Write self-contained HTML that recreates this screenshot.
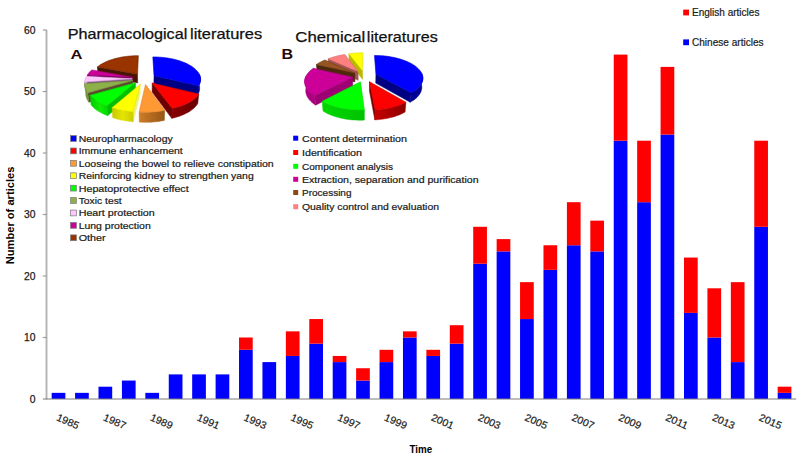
<!DOCTYPE html>
<html><head><meta charset="utf-8"><title>chart</title>
<style>html,body{margin:0;padding:0;background:#fff;}body{width:800px;height:456px;overflow:hidden;font-family:"Liberation Sans",sans-serif;}svg{display:block}text{font-family:"Liberation Sans",sans-serif;}</style>
</head><body>
<svg width="800" height="456" viewBox="0 0 800 456">
<rect width="800" height="456" fill="#ffffff"/>
<g>
<rect x="51.66" y="392.85" width="13.7" height="6.15" fill="#0000fe"/>
<rect x="75.08" y="392.85" width="13.7" height="6.15" fill="#0000fe"/>
<rect x="98.50" y="386.70" width="13.7" height="12.30" fill="#0000fe"/>
<rect x="121.92" y="380.55" width="13.7" height="18.45" fill="#0000fe"/>
<rect x="145.34" y="392.85" width="13.7" height="6.15" fill="#0000fe"/>
<rect x="168.76" y="374.40" width="13.7" height="24.60" fill="#0000fe"/>
<rect x="192.18" y="374.40" width="13.7" height="24.60" fill="#0000fe"/>
<rect x="215.60" y="374.40" width="13.7" height="24.60" fill="#0000fe"/>
<rect x="239.02" y="349.80" width="13.7" height="49.20" fill="#0000fe"/>
<rect x="239.02" y="337.50" width="13.7" height="12.30" fill="#fe0000"/>
<rect x="262.44" y="362.10" width="13.7" height="36.90" fill="#0000fe"/>
<rect x="285.86" y="355.95" width="13.7" height="43.05" fill="#0000fe"/>
<rect x="285.86" y="331.35" width="13.7" height="24.60" fill="#fe0000"/>
<rect x="309.28" y="343.65" width="13.7" height="55.35" fill="#0000fe"/>
<rect x="309.28" y="319.05" width="13.7" height="24.60" fill="#fe0000"/>
<rect x="332.70" y="362.10" width="13.7" height="36.90" fill="#0000fe"/>
<rect x="332.70" y="355.95" width="13.7" height="6.15" fill="#fe0000"/>
<rect x="356.12" y="380.55" width="13.7" height="18.45" fill="#0000fe"/>
<rect x="356.12" y="368.25" width="13.7" height="12.30" fill="#fe0000"/>
<rect x="379.54" y="362.10" width="13.7" height="36.90" fill="#0000fe"/>
<rect x="379.54" y="349.80" width="13.7" height="12.30" fill="#fe0000"/>
<rect x="402.96" y="337.50" width="13.7" height="61.50" fill="#0000fe"/>
<rect x="402.96" y="331.35" width="13.7" height="6.15" fill="#fe0000"/>
<rect x="426.38" y="355.95" width="13.7" height="43.05" fill="#0000fe"/>
<rect x="426.38" y="349.80" width="13.7" height="6.15" fill="#fe0000"/>
<rect x="449.80" y="343.65" width="13.7" height="55.35" fill="#0000fe"/>
<rect x="449.80" y="325.20" width="13.7" height="18.45" fill="#fe0000"/>
<rect x="473.22" y="263.70" width="13.7" height="135.30" fill="#0000fe"/>
<rect x="473.22" y="226.80" width="13.7" height="36.90" fill="#fe0000"/>
<rect x="496.64" y="251.40" width="13.7" height="147.60" fill="#0000fe"/>
<rect x="496.64" y="239.10" width="13.7" height="12.30" fill="#fe0000"/>
<rect x="520.06" y="319.05" width="13.7" height="79.95" fill="#0000fe"/>
<rect x="520.06" y="282.15" width="13.7" height="36.90" fill="#fe0000"/>
<rect x="543.48" y="269.85" width="13.7" height="129.15" fill="#0000fe"/>
<rect x="543.48" y="245.25" width="13.7" height="24.60" fill="#fe0000"/>
<rect x="566.90" y="245.25" width="13.7" height="153.75" fill="#0000fe"/>
<rect x="566.90" y="202.20" width="13.7" height="43.05" fill="#fe0000"/>
<rect x="590.32" y="251.40" width="13.7" height="147.60" fill="#0000fe"/>
<rect x="590.32" y="220.65" width="13.7" height="30.75" fill="#fe0000"/>
<rect x="613.74" y="140.70" width="13.7" height="258.30" fill="#0000fe"/>
<rect x="613.74" y="54.60" width="13.7" height="86.10" fill="#fe0000"/>
<rect x="637.16" y="202.20" width="13.7" height="196.80" fill="#0000fe"/>
<rect x="637.16" y="140.70" width="13.7" height="61.50" fill="#fe0000"/>
<rect x="660.58" y="134.55" width="13.7" height="264.45" fill="#0000fe"/>
<rect x="660.58" y="66.90" width="13.7" height="67.65" fill="#fe0000"/>
<rect x="684.00" y="312.90" width="13.7" height="86.10" fill="#0000fe"/>
<rect x="684.00" y="257.55" width="13.7" height="55.35" fill="#fe0000"/>
<rect x="707.42" y="337.50" width="13.7" height="61.50" fill="#0000fe"/>
<rect x="707.42" y="288.30" width="13.7" height="49.20" fill="#fe0000"/>
<rect x="730.84" y="362.10" width="13.7" height="36.90" fill="#0000fe"/>
<rect x="730.84" y="282.15" width="13.7" height="79.95" fill="#fe0000"/>
<rect x="754.26" y="226.80" width="13.7" height="172.20" fill="#0000fe"/>
<rect x="754.26" y="140.70" width="13.7" height="86.10" fill="#fe0000"/>
<rect x="777.68" y="392.85" width="13.7" height="6.15" fill="#0000fe"/>
<rect x="777.68" y="386.70" width="13.7" height="6.15" fill="#fe0000"/>
</g>
<line x1="46.5" y1="30.00" x2="46.5" y2="399.4" stroke="#b4b4b4" stroke-width="1.9"/>
<g stroke="#9a9a9a" stroke-width="1.1" fill="none">
<line x1="42.8" y1="399.0" x2="796.24" y2="399.0" stroke="#7c7c7c" stroke-width="1.2"/>
<line x1="42.8" y1="337.50" x2="46.8" y2="337.50"/>
<line x1="42.8" y1="276.00" x2="46.8" y2="276.00"/>
<line x1="42.8" y1="214.50" x2="46.8" y2="214.50"/>
<line x1="42.8" y1="153.00" x2="46.8" y2="153.00"/>
<line x1="42.8" y1="91.50" x2="46.8" y2="91.50"/>
<line x1="42.8" y1="30.00" x2="46.8" y2="30.00"/>
</g>
<g font-size="10.3" fill="#1a1a1a" stroke="#1a1a1a" stroke-width="0.25" text-anchor="end">
<text x="35.5" y="402.80">0</text>
<text x="35.5" y="341.30">10</text>
<text x="35.5" y="279.80">20</text>
<text x="35.5" y="218.30">30</text>
<text x="35.5" y="156.80">40</text>
<text x="35.5" y="95.30">50</text>
<text x="35.5" y="33.80">60</text>
</g>
<g font-size="10.3" fill="#1a1a1a" stroke="#1a1a1a" stroke-width="0.2">
<text transform="translate(55.71,419.90) rotate(24)" x="0" y="0" textLength="23.5" lengthAdjust="spacingAndGlyphs">1985</text>
<text transform="translate(102.55,419.90) rotate(24)" x="0" y="0" textLength="23.5" lengthAdjust="spacingAndGlyphs">1987</text>
<text transform="translate(149.39,419.90) rotate(24)" x="0" y="0" textLength="23.5" lengthAdjust="spacingAndGlyphs">1989</text>
<text transform="translate(196.23,419.90) rotate(24)" x="0" y="0" textLength="23.5" lengthAdjust="spacingAndGlyphs">1991</text>
<text transform="translate(243.07,419.90) rotate(24)" x="0" y="0" textLength="23.5" lengthAdjust="spacingAndGlyphs">1993</text>
<text transform="translate(289.91,419.90) rotate(24)" x="0" y="0" textLength="23.5" lengthAdjust="spacingAndGlyphs">1995</text>
<text transform="translate(336.75,419.90) rotate(24)" x="0" y="0" textLength="23.5" lengthAdjust="spacingAndGlyphs">1997</text>
<text transform="translate(383.59,419.90) rotate(24)" x="0" y="0" textLength="23.5" lengthAdjust="spacingAndGlyphs">1999</text>
<text transform="translate(430.43,419.90) rotate(24)" x="0" y="0" textLength="23.5" lengthAdjust="spacingAndGlyphs">2001</text>
<text transform="translate(477.27,419.90) rotate(24)" x="0" y="0" textLength="23.5" lengthAdjust="spacingAndGlyphs">2003</text>
<text transform="translate(524.11,419.90) rotate(24)" x="0" y="0" textLength="23.5" lengthAdjust="spacingAndGlyphs">2005</text>
<text transform="translate(570.95,419.90) rotate(24)" x="0" y="0" textLength="23.5" lengthAdjust="spacingAndGlyphs">2007</text>
<text transform="translate(617.79,419.90) rotate(24)" x="0" y="0" textLength="23.5" lengthAdjust="spacingAndGlyphs">2009</text>
<text transform="translate(664.63,419.90) rotate(24)" x="0" y="0" textLength="23.5" lengthAdjust="spacingAndGlyphs">2011</text>
<text transform="translate(711.47,419.90) rotate(24)" x="0" y="0" textLength="23.5" lengthAdjust="spacingAndGlyphs">2013</text>
<text transform="translate(758.31,419.90) rotate(24)" x="0" y="0" textLength="23.5" lengthAdjust="spacingAndGlyphs">2015</text>
</g>
<text x="409.5" y="452.6" font-size="10.6" font-weight="bold" fill="#000" textLength="22.7" lengthAdjust="spacingAndGlyphs">Time</text>
<text transform="translate(13.5,264.3) rotate(-90)" font-size="10.6" font-weight="bold" fill="#000" textLength="97.7" lengthAdjust="spacingAndGlyphs">Number of articles</text>
<rect x="683.2" y="9.6" width="5.8" height="5.8" fill="#fe0000"/>
<rect x="683.2" y="39.4" width="5.8" height="5.8" fill="#0000fe"/>
<text x="692" y="16.2" font-size="10" fill="#1a1a1a" stroke="#1a1a1a" stroke-width="0.2" textLength="67.4" lengthAdjust="spacingAndGlyphs">English articles</text>
<text x="692" y="45.7" font-size="10" fill="#1a1a1a" stroke="#1a1a1a" stroke-width="0.2" textLength="71.6" lengthAdjust="spacingAndGlyphs">Chinese articles</text>
<text x="67.7" y="39.4" font-size="14.5" fill="#111" stroke="#111" stroke-width="0.25" textLength="119.6" lengthAdjust="spacingAndGlyphs">Pharmacological</text>
<text x="190" y="39.4" font-size="14.5" fill="#111" stroke="#111" stroke-width="0.25" textLength="72.1" lengthAdjust="spacingAndGlyphs">literatures</text>
<text x="295.3" y="42.1" font-size="15.3" fill="#111" stroke="#111" stroke-width="0.25" textLength="70" lengthAdjust="spacingAndGlyphs">Chemical</text>
<text x="366.8" y="42.1" font-size="15.3" fill="#111" stroke="#111" stroke-width="0.25" textLength="71" lengthAdjust="spacingAndGlyphs">literatures</text>
<text x="70.5" y="58.6" font-size="13.6" font-weight="bold" fill="#250808" textLength="12" lengthAdjust="spacingAndGlyphs">A</text>
<text x="281.6" y="58.6" font-size="14.4" font-weight="bold" fill="#250808" textLength="11.6" lengthAdjust="spacingAndGlyphs">B</text>
<rect x="70.6" y="135.60" width="5.8" height="5.8" fill="#0000fe" stroke="#7a7a7a" stroke-width="0.7"/>
<text x="78.7" y="141.90" font-size="9" fill="#1a1a1a" stroke="#1a1a1a" stroke-width="0.2" textLength="94" lengthAdjust="spacingAndGlyphs">Neuropharmacology</text>
<rect x="70.6" y="148.01" width="5.8" height="5.8" fill="#fe0000" stroke="#7a7a7a" stroke-width="0.7"/>
<text x="78.7" y="154.31" font-size="9" fill="#1a1a1a" stroke="#1a1a1a" stroke-width="0.2" textLength="104" lengthAdjust="spacingAndGlyphs">Immune enhancement</text>
<rect x="70.6" y="160.42" width="5.8" height="5.8" fill="#ff9933" stroke="#7a7a7a" stroke-width="0.7"/>
<text x="78.7" y="166.72" font-size="9" fill="#1a1a1a" stroke="#1a1a1a" stroke-width="0.2" textLength="195" lengthAdjust="spacingAndGlyphs">Looseing the bowel to relieve constipation</text>
<rect x="70.6" y="172.83" width="5.8" height="5.8" fill="#ffff00" stroke="#7a7a7a" stroke-width="0.7"/>
<text x="78.7" y="179.13" font-size="9" fill="#1a1a1a" stroke="#1a1a1a" stroke-width="0.2" textLength="175" lengthAdjust="spacingAndGlyphs">Reinforcing kidney to strengthen yang</text>
<rect x="70.6" y="185.24" width="5.8" height="5.8" fill="#00ff00" stroke="#7a7a7a" stroke-width="0.7"/>
<text x="78.7" y="191.54" font-size="9" fill="#1a1a1a" stroke="#1a1a1a" stroke-width="0.2" textLength="110" lengthAdjust="spacingAndGlyphs">Hepatoprotective effect</text>
<rect x="70.6" y="197.65" width="5.8" height="5.8" fill="#8db04a" stroke="#7a7a7a" stroke-width="0.7"/>
<text x="78.7" y="203.95" font-size="9" fill="#1a1a1a" stroke="#1a1a1a" stroke-width="0.2" textLength="43" lengthAdjust="spacingAndGlyphs">Toxic test</text>
<rect x="70.6" y="210.06" width="5.8" height="5.8" fill="#ffc6ff" stroke="#7a7a7a" stroke-width="0.7"/>
<text x="78.7" y="216.36" font-size="9" fill="#1a1a1a" stroke="#1a1a1a" stroke-width="0.2" textLength="76" lengthAdjust="spacingAndGlyphs">Heart protection</text>
<rect x="70.6" y="222.47" width="5.8" height="5.8" fill="#cc0099" stroke="#7a7a7a" stroke-width="0.7"/>
<text x="78.7" y="228.77" font-size="9" fill="#1a1a1a" stroke="#1a1a1a" stroke-width="0.2" textLength="72" lengthAdjust="spacingAndGlyphs">Lung protection</text>
<rect x="70.6" y="234.88" width="5.8" height="5.8" fill="#993300" stroke="#7a7a7a" stroke-width="0.7"/>
<text x="78.7" y="241.18" font-size="9" fill="#1a1a1a" stroke="#1a1a1a" stroke-width="0.2" textLength="27" lengthAdjust="spacingAndGlyphs">Other</text>
<rect x="293.2" y="135.70" width="5" height="5" fill="#0000fe"/>
<text x="302" y="141.80" font-size="9" fill="#1a1a1a" stroke="#1a1a1a" stroke-width="0.2" textLength="105" lengthAdjust="spacingAndGlyphs">Content determination</text>
<rect x="293.2" y="150.00" width="5" height="5" fill="#fe0000"/>
<text x="302" y="156.10" font-size="9" fill="#1a1a1a" stroke="#1a1a1a" stroke-width="0.2" textLength="60" lengthAdjust="spacingAndGlyphs">Identification</text>
<rect x="293.2" y="163.80" width="5" height="5" fill="#00ff00"/>
<text x="302" y="169.90" font-size="9" fill="#1a1a1a" stroke="#1a1a1a" stroke-width="0.2" textLength="91" lengthAdjust="spacingAndGlyphs">Component analysis</text>
<rect x="293.2" y="176.80" width="5" height="5" fill="#cc0099"/>
<text x="302" y="182.90" font-size="9" fill="#1a1a1a" stroke="#1a1a1a" stroke-width="0.2" textLength="176.5" lengthAdjust="spacingAndGlyphs">Extraction, separation and purification</text>
<rect x="293.2" y="190.00" width="5" height="5" fill="#8a4a17"/>
<text x="302" y="196.10" font-size="9" fill="#1a1a1a" stroke="#1a1a1a" stroke-width="0.2" textLength="49.5" lengthAdjust="spacingAndGlyphs">Processing</text>
<rect x="293.2" y="204.20" width="5" height="5" fill="#ff8080"/>
<text x="302" y="210.30" font-size="9" fill="#1a1a1a" stroke="#1a1a1a" stroke-width="0.2" textLength="137" lengthAdjust="spacingAndGlyphs">Quality control and evaluation</text>
<defs><linearGradient id="aw4" gradientUnits="userSpaceOnUse" x1="90.1" y1="0" x2="107.7" y2="0"><stop offset="0" stop-color="#00cd00"/><stop offset="0.6" stop-color="#14eb00"/><stop offset="1" stop-color="#00d700"/></linearGradient><linearGradient id="aw1" gradientUnits="userSpaceOnUse" x1="171.7" y1="0" x2="198.7" y2="0"><stop offset="0" stop-color="#870000"/><stop offset="1" stop-color="#690000"/></linearGradient><linearGradient id="aw3" gradientUnits="userSpaceOnUse" x1="112.1" y1="0" x2="133.2" y2="0"><stop offset="0" stop-color="#c8c800"/><stop offset="0.5" stop-color="#e4e400"/><stop offset="1" stop-color="#cdcd00"/></linearGradient><linearGradient id="aw2" gradientUnits="userSpaceOnUse" x1="139.2" y1="0" x2="164.7" y2="0"><stop offset="0" stop-color="#cd7d28"/><stop offset="1" stop-color="#965516"/></linearGradient></defs><g><polygon points="137.57,74.16 97.35,66.99 98.05,75.45 137.67,82.90" fill="#481600" stroke="#481600" stroke-width="0.5" stroke-linejoin="round"/><polygon points="137.57,74.16 97.35,66.99 98.50,66.07 99.74,65.19 101.06,64.34 102.46,63.52 103.94,62.74 105.48,61.99 107.09,61.29 108.76,60.62 110.48,59.99 112.26,59.41 114.09,58.86 115.96,58.36 117.87,57.89 119.82,57.48 121.80,57.10 123.81,56.77 125.84,56.48 127.89,56.23 129.96,56.03 132.05,55.88 134.14,55.76 136.24,55.70 138.34,55.68" fill="#993300" stroke="#702400" stroke-width="0.6" stroke-linejoin="round"/></g>
<g><polygon points="154.02,75.75 198.47,85.83 197.55,95.02 153.87,84.56" fill="#000082" stroke="#000082" stroke-width="0.5" stroke-linejoin="round"/><polygon points="199.33,74.27 199.68,75.02 199.97,75.77 200.21,76.52 200.39,77.29 200.51,78.06 200.58,78.83 200.59,79.61 200.54,80.39 200.43,81.17 200.26,81.95 200.03,82.73 199.73,83.51 199.37,84.29 198.95,85.06 198.47,85.83 197.55,95.02 198.04,94.23 198.45,93.43 198.81,92.62 199.10,91.81 199.34,91.00 199.51,90.19 199.62,89.38 199.68,88.57 199.67,87.76 199.61,86.96 199.49,86.16 199.32,85.36 199.09,84.58 198.80,83.80 198.47,83.02" fill="#000091" stroke="#000091" stroke-width="0.5" stroke-linejoin="round"/><polygon points="154.02,75.75 152.84,56.91 155.00,56.94 157.16,57.01 159.32,57.13 161.47,57.29 163.60,57.50 165.72,57.76 167.82,58.07 169.89,58.42 171.93,58.82 173.94,59.26 175.91,59.75 177.84,60.29 179.72,60.86 181.55,61.49 183.33,62.15 185.04,62.86 186.69,63.60 188.28,64.39 189.79,65.22 191.22,66.08 192.56,66.98 193.82,67.92 194.99,68.89 196.06,69.89 197.03,70.92 197.89,71.97 198.64,73.06 199.27,74.16 199.79,75.29 200.18,76.43 200.45,77.59 200.58,78.76 200.58,79.94 200.44,81.12 200.16,82.31 199.74,83.49 199.18,84.66 198.47,85.83" fill="#0000fe" stroke="#0000d7" stroke-width="0.6" stroke-linejoin="round"/></g>
<g><polygon points="132.66,77.35 87.38,74.99 88.27,83.77 132.84,86.22" fill="#69004e" stroke="#69004e" stroke-width="0.5" stroke-linejoin="round"/><polygon points="132.66,77.35 87.38,74.99 88.27,73.66 89.33,72.36 90.53,71.11 91.89,69.90" fill="#cc0099" stroke="#aa0080" stroke-width="0.6" stroke-linejoin="round"/></g>
<g><polygon points="132.22,78.75 84.72,81.90 85.70,90.95 132.41,87.68" fill="#7d5c7d" stroke="#7d5c7d" stroke-width="0.5" stroke-linejoin="round"/><polygon points="84.72,81.90 84.81,81.11 84.95,80.32 85.15,79.53 85.41,78.75 85.72,77.98 86.08,77.22 87.00,86.09 86.65,86.88 86.35,87.68 86.10,88.49 85.91,89.30 85.78,90.13 85.70,90.95" fill="#e1ace1" stroke="#e1ace1" stroke-width="0.5" stroke-linejoin="round"/><polygon points="132.22,78.75 84.72,81.90 84.92,80.49 85.29,79.08 85.84,77.70 86.56,76.35" fill="#ffc6ff" stroke="#e1aae1" stroke-width="0.6" stroke-linejoin="round"/></g>
<g><polygon points="132.74,80.53 87.83,92.72 88.82,102.17 132.93,89.52" fill="#5c4a30" stroke="#5c4a30" stroke-width="0.5" stroke-linejoin="round"/><polygon points="87.83,92.72 87.23,91.93 86.70,91.12 86.22,90.31 85.82,89.50 85.47,88.68 85.19,87.85 84.98,87.03 84.82,86.21 84.73,85.39 84.70,84.56 84.72,83.75 85.71,92.86 85.68,93.71 85.72,94.56 85.82,95.42 85.97,96.27 86.19,97.12 86.47,97.97 86.82,98.82 87.22,99.67 87.69,100.51 88.22,101.34 88.82,102.17" fill="#76943c" stroke="#76943c" stroke-width="0.5" stroke-linejoin="round"/><polygon points="132.74,80.53 87.83,92.72 86.92,91.47 86.16,90.20 85.56,88.91 85.12,87.62 84.84,86.33 84.71,85.03 84.72,83.75" fill="#8db04a" stroke="#78963e" stroke-width="0.6" stroke-linejoin="round"/></g>
<g><polygon points="135.49,82.76 106.96,105.77 107.65,115.66 135.63,91.83" fill="#00be00" stroke="#00be00" stroke-width="0.5" stroke-linejoin="round"/><polygon points="106.96,105.77 105.44,105.23 103.96,104.66 102.54,104.06 101.18,103.44 99.87,102.79 98.61,102.12 97.42,101.43 96.29,100.72 95.22,99.99 94.21,99.24 93.26,98.48 92.38,97.71 91.57,96.92 90.82,96.11 90.13,95.30 91.09,104.84 91.76,105.68 92.51,106.51 93.31,107.32 94.18,108.13 95.11,108.91 96.10,109.69 97.16,110.44 98.27,111.18 99.45,111.89 100.68,112.58 101.97,113.25 103.31,113.89 104.71,114.51 106.16,115.10 107.65,115.66" fill="url(#aw4)" stroke="url(#aw4)" stroke-width="0.5" stroke-linejoin="round"/><polygon points="135.49,82.76 106.96,105.77 104.69,104.94 102.54,104.06 100.51,103.12 98.61,102.12 96.85,101.08 95.22,99.99 93.73,98.86 92.38,97.71 91.18,96.52 90.13,95.30" fill="#00ff00" stroke="#00d700" stroke-width="0.6" stroke-linejoin="round"/></g>
<g><polygon points="152.24,82.99 172.26,108.37 171.72,118.35 152.10,92.07" fill="#700000" stroke="#700000" stroke-width="0.5" stroke-linejoin="round"/><polygon points="198.73,94.04 198.14,94.91 197.47,95.77 196.73,96.62 195.92,97.45 195.04,98.27 194.09,99.08 193.07,99.88 191.98,100.65 190.82,101.40 189.60,102.14 188.31,102.85 186.96,103.53 185.54,104.19 184.06,104.82 182.53,105.43 180.94,106.00 179.30,106.54 177.61,107.05 175.87,107.53 174.08,107.97 172.26,108.37 171.72,118.35 173.52,117.93 175.27,117.47 176.98,116.98 178.64,116.46 180.25,115.90 181.81,115.31 183.32,114.68 184.77,114.03 186.16,113.35 187.49,112.64 188.76,111.90 189.97,111.15 191.11,110.37 192.18,109.57 193.19,108.75 194.13,107.91 194.99,107.06 195.79,106.20 196.52,105.32 197.18,104.43 197.77,103.53" fill="url(#aw1)" stroke="url(#aw1)" stroke-width="0.5" stroke-linejoin="round"/><polygon points="152.24,82.99 198.73,94.04 197.81,95.34 196.73,96.62 195.49,97.87 194.09,99.08 192.53,100.26 190.82,101.40 188.96,102.49 186.96,103.53 184.81,104.51 182.53,105.43 180.13,106.28 177.61,107.05 174.98,107.75 172.26,108.37" fill="#fe0000" stroke="#c80000" stroke-width="0.6" stroke-linejoin="round"/></g>
<g><polygon points="140.24,84.20 133.02,111.66 133.24,121.74 140.30,93.33" fill="#f0f06e" stroke="#f0f06e" stroke-width="0.5" stroke-linejoin="round"/><polygon points="133.02,111.66 130.97,111.50 128.93,111.29 126.92,111.05 124.94,110.76 122.98,110.43 121.06,110.06 119.17,109.65 117.33,109.21 115.54,108.72 113.79,108.20 112.09,107.65 112.69,117.60 114.36,118.17 116.08,118.71 117.84,119.21 119.65,119.67 121.50,120.09 123.38,120.47 125.30,120.81 127.25,121.11 129.23,121.36 131.22,121.57 133.24,121.74" fill="url(#aw3)" stroke="url(#aw3)" stroke-width="0.5" stroke-linejoin="round"/><polygon points="140.24,84.20 133.02,111.66 129.80,111.39 126.64,111.01 123.54,110.53 120.52,109.95 117.59,109.27 114.78,108.50 112.09,107.65" fill="#ffff00" stroke="#e1e100" stroke-width="0.6" stroke-linejoin="round"/></g>
<g><polygon points="164.70,110.35 162.85,110.71 160.97,111.04 159.06,111.33 157.12,111.58 155.16,111.79 153.18,111.96 151.19,112.09 149.19,112.18 147.18,112.23 145.17,112.24 143.16,112.21 141.15,112.14 139.16,112.02 139.25,122.11 141.21,122.23 143.18,122.31 145.15,122.34 147.12,122.33 149.09,122.28 151.06,122.19 153.01,122.05 154.95,121.87 156.87,121.66 158.77,121.40 160.64,121.10 162.49,120.76 164.31,120.38" fill="url(#aw2)" stroke="url(#aw2)" stroke-width="0.5" stroke-linejoin="round"/><polygon points="145.51,84.47 164.70,110.35 161.68,110.92 158.57,111.39 155.41,111.77 152.19,112.03 148.94,112.19 145.67,112.24 142.41,112.19 139.16,112.02" fill="#ff9933" stroke="#e18228" stroke-width="0.6" stroke-linejoin="round"/></g>
<defs><linearGradient id="bw1" gradientUnits="userSpaceOnUse" x1="374.9" y1="0" x2="405.9" y2="0"><stop offset="0" stop-color="#c80000"/><stop offset="1" stop-color="#8c0000"/></linearGradient><linearGradient id="bw2" gradientUnits="userSpaceOnUse" x1="322.2" y1="0" x2="364.4" y2="0"><stop offset="0" stop-color="#00d700"/><stop offset="1" stop-color="#00c300"/></linearGradient></defs><g><polygon points="362.56,70.78 348.89,53.83 349.12,61.76 362.60,79.47" fill="#b9b900" stroke="#b9b900" stroke-width="0.5" stroke-linejoin="round"/><polygon points="362.56,70.78 348.89,53.83 351.17,53.52 353.47,53.27 355.79,53.08 358.13,52.94 360.47,52.85 362.83,52.83" fill="#ffff00" stroke="#dede00" stroke-width="0.6" stroke-linejoin="round"/></g>
<g><polygon points="358.06,71.61 328.18,58.83 328.73,66.99 358.17,80.34" fill="#a55252" stroke="#a55252" stroke-width="0.5" stroke-linejoin="round"/><polygon points="358.06,71.61 328.18,58.83 329.85,58.18 331.58,57.58 333.36,57.01 335.18,56.48 337.05,56.00 338.95,55.55 340.89,55.15 342.86,54.79 344.85,54.48" fill="#ff8080" stroke="#d76969" stroke-width="0.6" stroke-linejoin="round"/></g>
<g><polygon points="354.77,73.09 316.36,64.57 317.13,72.99 354.93,81.88" fill="#4e280c" stroke="#4e280c" stroke-width="0.5" stroke-linejoin="round"/><polygon points="354.77,73.09 316.36,64.57 317.88,63.57 319.50,62.62 321.21,61.72 323.02,60.86 324.90,60.06" fill="#965523" stroke="#703c14" stroke-width="0.6" stroke-linejoin="round"/></g>
<g><polygon points="375.91,74.26 411.11,92.65 410.22,102.22 375.72,83.10" fill="#000082" stroke="#000082" stroke-width="0.5" stroke-linejoin="round"/><polygon points="421.38,72.78 421.76,73.53 422.08,74.30 422.35,75.08 422.57,75.86 422.72,76.65 422.82,77.45 422.85,78.24 422.82,79.05 422.73,79.85 422.57,80.66 422.35,81.46 422.07,82.27 421.72,83.07 421.30,83.86 420.81,84.66 420.26,85.44 419.65,86.22 418.96,86.99 418.21,87.75 417.39,88.50 416.50,89.23 415.55,89.95 414.54,90.65 413.46,91.34 412.32,92.00 411.11,92.65 410.22,102.22 411.41,101.55 412.53,100.86 413.60,100.15 414.60,99.42 415.54,98.67 416.41,97.91 417.22,97.13 417.96,96.35 418.64,95.55 419.25,94.74 419.79,93.92 420.28,93.10 420.69,92.27 421.04,91.43 421.33,90.60 421.55,89.76 421.70,88.92 421.80,88.08 421.83,87.25 421.81,86.42 421.72,85.59 421.57,84.77 421.37,83.95 421.11,83.14 420.79,82.34 420.42,81.55" fill="#000096" stroke="#000096" stroke-width="0.5" stroke-linejoin="round"/><polygon points="375.91,74.26 374.47,55.48 376.60,55.51 378.73,55.58 380.86,55.69 382.98,55.85 385.09,56.06 387.18,56.31 389.25,56.60 391.31,56.95 393.33,57.33 395.32,57.76 397.28,58.24 399.21,58.76 401.08,59.32 402.92,59.92 404.70,60.57 406.42,61.26 408.09,61.99 409.69,62.75 411.22,63.56 412.68,64.41 414.06,65.29 415.36,66.20 416.57,67.15 417.68,68.14 418.71,69.15 419.62,70.19 420.44,71.26 421.14,72.36 421.73,73.47 422.20,74.61 422.54,75.76 422.76,76.92 422.85,78.10 422.80,79.28 422.61,80.47 422.29,81.66 421.82,82.84 421.21,84.02 420.45,85.19 419.55,86.33 418.50,87.46 417.31,88.57 415.97,89.64 414.49,90.69 412.87,91.69 411.11,92.65" fill="#0000fe" stroke="#0000d7" stroke-width="0.6" stroke-linejoin="round"/></g>
<g><polygon points="352.61,77.28 314.66,95.46 315.63,105.13 352.81,86.25" fill="#9e0074" stroke="#9e0074" stroke-width="0.5" stroke-linejoin="round"/><polygon points="314.66,95.46 313.55,94.76 312.51,94.05 311.53,93.32 310.61,92.58 309.76,91.82 308.98,91.05 308.26,90.27 307.60,89.48 307.02,88.68 306.50,87.87 306.04,87.06 305.65,86.24 305.33,85.42 305.07,84.60 304.87,83.78 304.74,82.96 304.66,82.13 304.65,81.32 304.70,80.50 304.82,79.69 304.98,78.88 305.21,78.09 305.49,77.29 305.83,76.51 306.22,75.74 307.22,84.64 306.84,85.44 306.52,86.26 306.24,87.08 306.03,87.92 305.87,88.75 305.77,89.60 305.72,90.45 305.74,91.30 305.81,92.15 305.95,93.01 306.15,93.86 306.41,94.72 306.73,95.57 307.12,96.42 307.57,97.26 308.09,98.10 308.67,98.93 309.32,99.75 310.03,100.56 310.80,101.36 311.64,102.15 312.55,102.92 313.51,103.68 314.54,104.41 315.63,105.13" fill="#ac0080" stroke="#ac0080" stroke-width="0.5" stroke-linejoin="round"/><polygon points="352.61,77.28 314.66,95.46 312.97,94.38 311.44,93.25 310.06,92.10 308.84,90.91 307.77,89.69 306.86,88.45 306.11,87.20 305.52,85.94 305.08,84.66 304.80,83.39 304.66,82.12 304.68,80.85 304.83,79.60 305.13,78.36 305.56,77.13 306.12,75.93 306.81,74.74 307.61,73.59 308.54,72.46 309.57,71.36 310.71,70.30 311.96,69.27 313.29,68.28" fill="#cc0099" stroke="#ac0080" stroke-width="0.6" stroke-linejoin="round"/></g>
<g><polygon points="369.51,81.73 375.08,109.70 374.86,119.88 369.42,90.88" fill="#7d0000" stroke="#7d0000" stroke-width="0.5" stroke-linejoin="round"/><polygon points="405.89,102.16 404.49,102.88 403.03,103.57 401.50,104.23 399.91,104.86 398.26,105.46 396.56,106.03 394.81,106.56 393.00,107.06 391.15,107.52 389.25,107.94 387.31,108.31 385.34,108.65 383.34,108.95 381.31,109.20 379.25,109.42 377.17,109.58 375.08,109.70 374.86,119.88 376.91,119.76 378.94,119.59 380.96,119.37 382.95,119.10 384.91,118.80 386.84,118.45 388.74,118.06 390.60,117.62 392.41,117.15 394.18,116.64 395.91,116.09 397.58,115.50 399.19,114.88 400.75,114.22 402.25,113.54 403.68,112.82 405.06,112.08" fill="url(#bw1)" stroke="url(#bw1)" stroke-width="0.5" stroke-linejoin="round"/><polygon points="369.51,81.73 405.89,102.16 403.70,103.26 401.36,104.29 398.87,105.25 396.25,106.13 393.50,106.93 390.63,107.63 387.67,108.25 384.62,108.77 381.49,109.18 378.31,109.50 375.08,109.70" fill="#fe0000" stroke="#cd0000" stroke-width="0.6" stroke-linejoin="round"/></g>
<g><polygon points="364.37,109.88 362.36,109.95 360.34,109.98 358.32,109.98 356.30,109.93 354.30,109.84 352.30,109.71 350.32,109.54 348.36,109.33 346.42,109.08 344.50,108.79 342.62,108.46 340.77,108.10 338.95,107.70 337.18,107.26 335.44,106.79 333.76,106.29 332.12,105.75 330.53,105.19 328.99,104.59 327.51,103.97 326.09,103.32 324.72,102.64 323.41,101.94 322.17,101.22 323.02,111.10 324.24,111.85 325.53,112.58 326.87,113.28 328.27,113.95 329.72,114.59 331.23,115.21 332.79,115.80 334.39,116.35 336.05,116.87 337.75,117.36 339.49,117.81 341.26,118.23 343.08,118.60 344.92,118.94 346.80,119.24 348.70,119.50 350.62,119.71 352.56,119.89 354.51,120.02 356.48,120.12 358.45,120.17 360.43,120.17 362.41,120.14 364.38,120.06" fill="url(#bw2)" stroke="url(#bw2)" stroke-width="0.5" stroke-linejoin="round"/><polygon points="360.44,81.85 364.37,109.88 361.35,109.97 358.32,109.98 355.30,109.89 352.30,109.71 349.33,109.44 346.42,109.08 343.56,108.63 340.77,108.10 338.06,107.48 335.44,106.79 332.93,106.02 330.53,105.19 328.24,104.28 326.09,103.32 324.06,102.29 322.17,101.22" fill="#00ff00" stroke="#00d700" stroke-width="0.6" stroke-linejoin="round"/></g>
</svg></body></html>
